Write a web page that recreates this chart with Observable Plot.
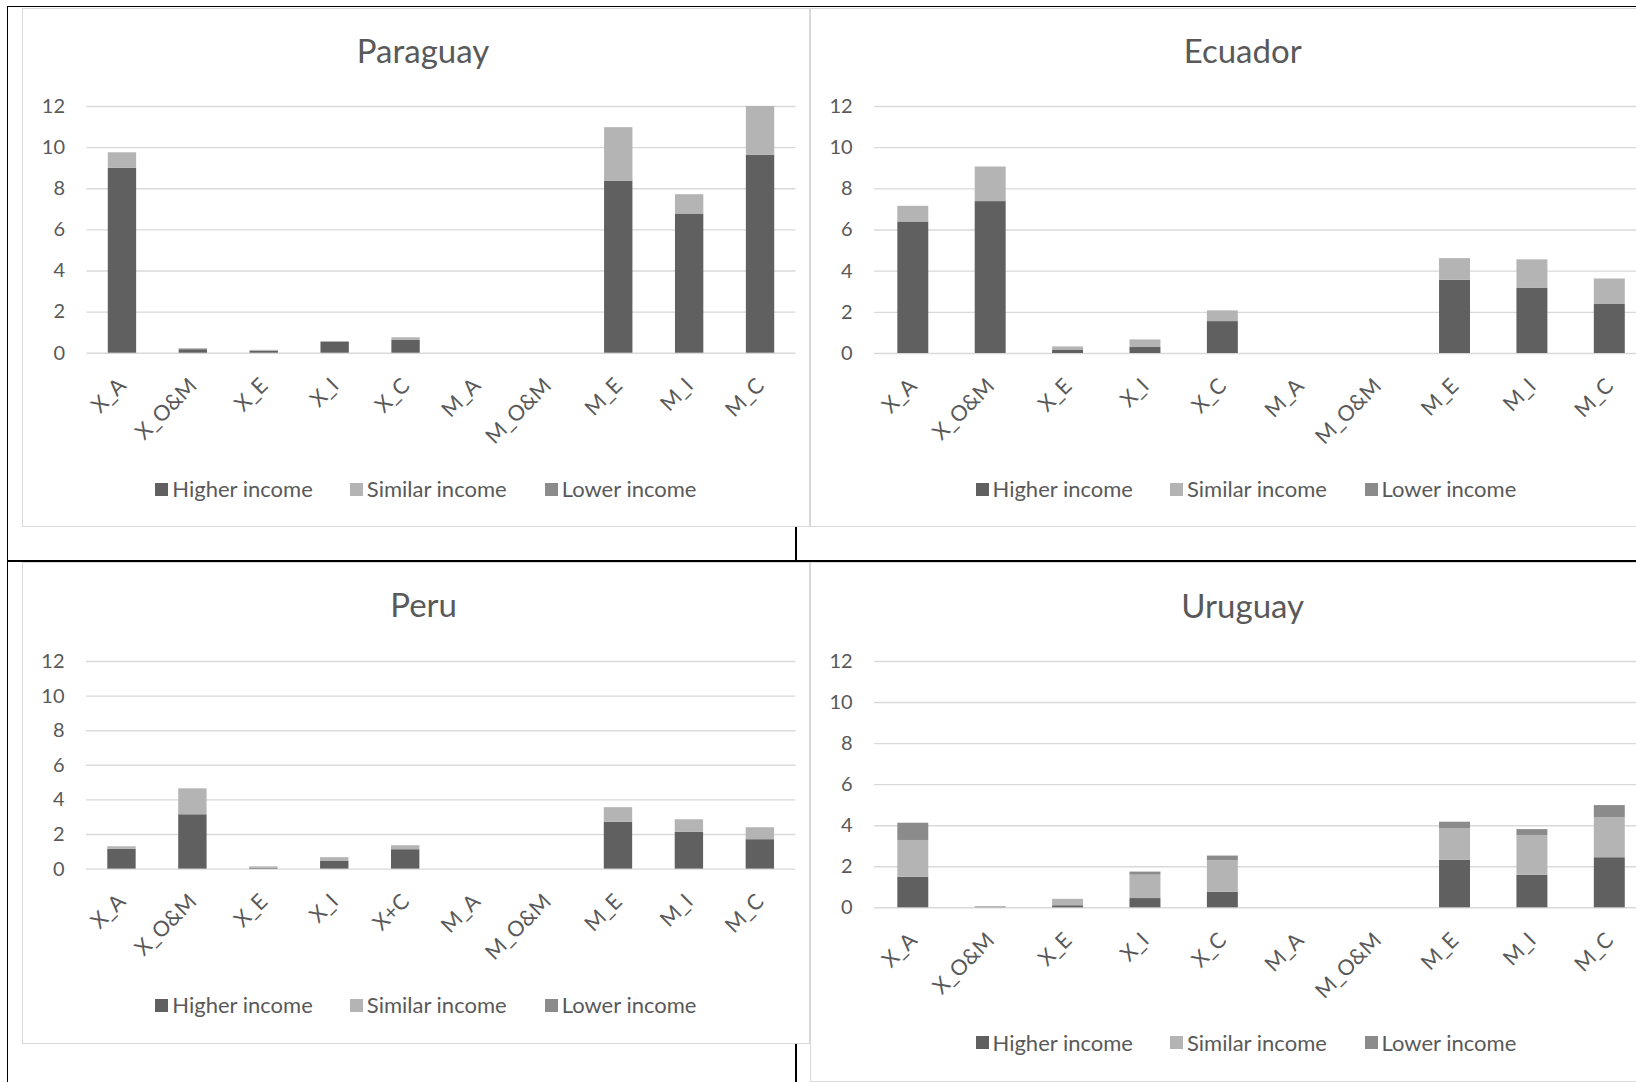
<!DOCTYPE html>
<html><head><meta charset="utf-8">
<script src="https://cdn.jsdelivr.net/npm/d3@7"></script>
<script src="https://cdn.jsdelivr.net/npm/@observablehq/plot@0.6"></script>
<style>
html,body{margin:0;padding:0;background:#fff;}
#page{position:relative;width:1636px;height:1082px;overflow:hidden;background:#fff;font-family:Lato,"Open Sans",sans-serif;color:#595959;}
.frame{position:absolute;border:1px solid #d9d9d9;box-sizing:border-box;background:#fff;}
.blk{position:absolute;background:#000;}
.title{position:absolute;transform:translate(-50%,-50%);font-size:33px;white-space:nowrap;line-height:1;}
.svgwrap{position:absolute;}
.svgwrap svg{max-width:none !important;display:block;}
.leg{position:absolute;display:flex;align-items:center;font-size:22px;white-space:nowrap;transform:translateY(-50%);line-height:1;}
.sw{width:13px;height:13px;display:inline-block;margin-right:4px;}
</style></head><body><div id="page"></div>
<script>
// ---- data ----
const categories = ["X_A","X_O&M","X_E","X_I","X_C","M_A","M_O&M","M_E","M_I","M_C"];
const categoriesPeru = ["X_A","X_O&M","X_E","X_I","X+C","M_A","M_O&M","M_E","M_I","M_C"];
const groups = ["Higher income","Similar income","Lower income"];
const groupColors = ["#606060","#b4b4b4","#8b8b8b"];
const yTicks = [0,2,4,6,8,10,12];

const paraguayHigher  = [9.00, 0.17, 0.10, 0.52, 0.62, 0, 0, 8.37, 6.77, 9.62];
const paraguaySimilar = [0.75, 0.05, 0.04, 0.05, 0.13, 0, 0, 2.60, 0.94, 2.38];
const paraguayLower   = [0, 0, 0, 0, 0, 0, 0, 0, 0, 0];

const ecuadorHigher  = [6.39, 7.38, 0.17, 0.29, 1.55, 0, 0, 3.56, 3.16, 2.38];
const ecuadorSimilar = [0.76, 1.68, 0.15, 0.37, 0.52, 0, 0, 1.05, 1.39, 1.24];
const ecuadorLower   = [0, 0, 0, 0, 0, 0, 0, 0, 0, 0];

const peruHigher  = [1.14, 3.14, 0.05, 0.44, 1.12, 0, 0, 2.70, 2.12, 1.70];
const peruSimilar = [0.15, 1.50, 0.08, 0.22, 0.23, 0, 0, 0.85, 0.73, 0.69];
const peruLower   = [0, 0, 0, 0, 0, 0, 0, 0, 0, 0];

const uruguayHigher  = [1.49, 0.01, 0.10, 0.45, 0.75, 0, 0, 2.31, 1.59, 2.44];
const uruguaySimilar = [1.79, 0.05, 0.30, 1.14, 1.54, 0, 0, 1.55, 1.92, 1.94];
const uruguayLower   = [0.84, 0, 0.01, 0.15, 0.23, 0, 0, 0.31, 0.30, 0.60];

// ---- layout ----
const page = document.getElementById("page");
function el(cls, css, html) {
  const d = document.createElement("div");
  d.className = cls;
  Object.assign(d.style, css);
  if (html !== undefined) d.innerHTML = html;
  page.appendChild(d);
  return d;
}

const panels = [
  {title:"Paraguay", cats:categories, vals:[paraguayHigher,paraguaySimilar,paraguayLower],
   frame:[22,8,810,527], tx:423, ty:50, px0:86.5, px1:795.5, y12:105.7, y0:352.4, legY:489, legX:[155.3,349.8,544.7]},
  {title:"Ecuador", cats:categories, vals:[ecuadorHigher,ecuadorSimilar,ecuadorLower],
   frame:[810,8,1700,527], tx:1242.7, ty:50, px0:874.1, px1:1648, y12:105.7, y0:352.7, legY:489, legX:[975.5,1170,1364.5]},
  {title:"Peru", cats:categoriesPeru, vals:[peruHigher,peruSimilar,peruLower],
   frame:[22,562,810,1044], tx:423.6, ty:604, px0:86, px1:795.3, y12:660.7, y0:868.3, legY:1005, legX:[155.3,349.8,544.7]},
  {title:"Uruguay", cats:categories, vals:[uruguayHigher,uruguaySimilar,uruguayLower],
   frame:[810,562,1700,1081.5], tx:1242.7, ty:605, px0:874.1, px1:1648, y12:660.7, y0:907, legY:1042.5, legX:[975.5,1170,1364.5]}
];

for (const p of panels) {
  const [l,t,r,b] = p.frame;
  el("frame", {left:l+"px", top:t+"px", width:(r-l)+"px", height:(b-t)+"px"});
}

for (const p of panels) {
  el("title", {left:p.tx+"px", top:p.ty+"px"}, p.title);

  const data = [];
  p.cats.forEach((c, i) => {
    groups.forEach((g, gi) => data.push({cat:c, group:g, value:p.vals[gi][i]}));
  });

  const left = p.frame[0];
  const top = p.y12 - 40;
  const width = p.px1 - left + 14;
  const height = (p.y0 + 100) - top;

  const chart = Plot.plot({
    width, height,
    marginLeft: p.px0 - left,
    marginRight: width - (p.px1 - left),
    marginTop: 40,
    marginBottom: 100,
    style: {background:"transparent", fontFamily:"Lato, 'Open Sans', sans-serif", fontSize:"20px", color:"#595959", overflow:"visible", maxWidth:"none"},
    x: {domain: p.cats, paddingInner: 0.6, paddingOuter: 0.3, align: 0.5, round: false, label: null},
    y: {domain: [0,12], label: null},
    color: {domain: groups, range: groupColors},
    marks: [
      Plot.ruleY(yTicks, {y: d => d, stroke: "#d9d9d9", strokeWidth: 1.4}),
      Plot.barY(data, {x:"cat", y:"value", fill:"group"}),
      Plot.axisY(yTicks, {tickSize: 0, tickPadding: 22, fontSize: 20, label: null}),
      Plot.axisX({tickSize: 0, tickPadding: 29, tickRotate: -45, fontSize: 21.5, label: null})
    ]
  });
  chart.style.maxWidth = "none";
  const wrap = el("svgwrap", {left:left+"px", top:top+"px", width:width+"px", height:height+"px"});
  wrap.appendChild(chart);

  groups.forEach((g, gi) => {
    el("leg", {left:p.legX[gi]+"px", top:p.legY+"px"},
      `<span class="sw" style="background:${groupColors[gi]}"></span><span>${g}</span>`);
  });
}

// table borders
el("blk", {left:"6.5px", top:"5.5px", width:"1640px", height:"1.6px"});
el("blk", {left:"6.5px", top:"5.5px", width:"1.6px", height:"1100px"});
el("blk", {left:"6.5px", top:"560px", width:"1640px", height:"1.6px"});
el("blk", {left:"795px", top:"527px", width:"1.6px", height:"34px"});
el("blk", {left:"795px", top:"1044px", width:"1.6px", height:"40px"});
</script></body></html>
